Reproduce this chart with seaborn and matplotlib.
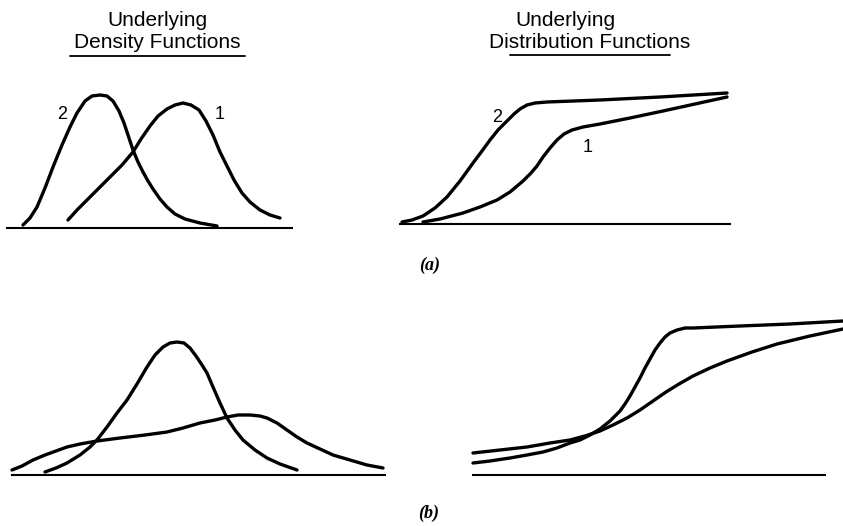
import matplotlib
matplotlib.use("Agg")
import matplotlib.pyplot as plt
from matplotlib.lines import Line2D
import seaborn as sns

sns.set_theme(style="white")
plt.rcParams["font.family"] = ["Liberation Sans", "DejaVu Sans"]
plt.rcParams["text.color"] = "black"

# ---------------- data (panel-local units: x along baseline, y height above it) ----
# (a) density functions
dens_a2_x = [16, 23, 30, 38, 46, 55, 63, 70, 78, 85, 93, 100, 106, 112, 117, 122, 126, 131, 136, 141, 146, 153, 160, 168, 178, 193, 210]
dens_a2_y = [3, 10, 21, 40, 61, 83, 101, 115, 127, 132, 133, 132, 127, 117, 105, 90, 78, 66, 56, 47, 39, 29, 21, 14, 9, 5, 2]
dens_a1_x = [61, 70, 80, 91, 103, 115, 126, 134, 143, 151, 160, 168, 176, 184, 192, 199, 206, 213, 220, 227, 235, 243, 253, 263, 273]
dens_a1_y = [8, 18, 28, 39, 51, 63, 76, 89, 102, 112, 119, 123, 125, 123, 118, 107, 93, 76, 62, 48, 35, 26, 18, 13, 10]

# (a) distribution functions
cdf_a2_x = [2, 12, 23, 35, 47, 60, 73, 82, 90, 98, 107, 114, 120, 127, 135, 147, 200, 260, 327]
cdf_a2_y = [2, 4, 8, 16, 27, 43, 61, 73, 84, 94, 103, 110, 115, 119, 121, 122, 124, 127, 131]
cdf_a1_x = [23, 40, 63, 80, 97, 110, 123, 131, 137, 143, 150, 157, 164, 172, 183, 200, 230, 263, 295, 327]
cdf_a1_y = [2, 5, 11, 17, 24, 32, 43, 51, 58, 67, 76, 84, 90, 94, 97, 100, 106, 113, 120, 127]

# (b) density functions
dens_b_tall_x = [33, 44, 55, 68, 78, 85, 95, 105, 115, 125, 135, 143, 151, 158, 165, 172, 178, 184, 190, 195, 201, 208, 215, 223, 231, 243, 255, 268, 285]
dens_b_tall_y = [3, 7, 12, 20, 28, 35, 48, 62, 75, 91, 108, 120, 128, 132, 133, 132, 127, 119, 110, 102, 88, 72, 57, 45, 35, 25, 17, 11, 5]
dens_b_wide_x = [0, 10, 21, 33, 44, 55, 68, 85, 108, 133, 155, 171, 188, 203, 215, 226, 238, 248, 255, 265, 275, 285, 295, 308, 321, 338, 355, 371]
dens_b_wide_y = [5, 9, 15, 20, 24, 28, 31, 34, 37, 40, 43, 47, 52, 55, 58, 60, 60, 59, 57, 52, 45, 38, 32, 26, 20, 15, 10, 7]

# (b) distribution functions
cdf_b_steep_x = [0, 17, 37, 54, 70, 84, 97, 107, 117, 122, 127, 132, 137, 142, 147, 152, 157, 162, 167, 172, 177, 182, 187, 192, 197, 204, 212, 220, 267, 317, 370]
cdf_b_steep_y = [12, 14, 17, 20, 23, 27, 32, 35, 40, 43, 46, 50, 54, 59, 64, 71, 79, 88, 97, 107, 116, 125, 132, 138, 142, 145, 147, 147, 149, 151, 154]
cdf_b_shallow_x = [0, 27, 54, 77, 97, 112, 127, 140, 154, 167, 180, 193, 206, 220, 237, 254, 279, 304, 337, 370]
cdf_b_shallow_y = [22, 25, 28, 32, 35, 39, 44, 50, 57, 65, 74, 83, 91, 99, 107, 114, 123, 131, 139, 146]

col_titles = [("Underlying", "Density Functions"), ("Underlying", "Distribution Functions")]
curve_labels_a_left = [("2", 55, 113), ("1", 213, 113)]
curve_labels_a_right = [("2", 97, 106), ("1", 188, 77)]
row_labels = ["(a)", "(b)"]

# ---------------- layout ---------------------------------------------------------
W, H = 843, 526
fig = plt.figure(figsize=(W / 100, H / 100), dpi=100)
fig.patch.set_facecolor("white")

LW = 2.4


def panel(left, base, width, height=150):
    ax = fig.add_axes([left / W, 1 - base / H, width / W, height / H])
    ax.set_xlim(0, width)
    ax.set_ylim(0, height)
    ax.set_facecolor("none")
    for s in ["top", "right", "left"]:
        ax.spines[s].set_visible(False)
    ax.spines["bottom"].set_color("black")
    ax.spines["bottom"].set_linewidth(1.5)
    ax.set_xticks([])
    ax.set_yticks([])
    ax.set_xlabel("")
    ax.set_ylabel("")
    return ax


def draw(ax, xs, ys):
    sns.lineplot(x=xs, y=ys, ax=ax, color="black", linewidth=LW, sort=False,
                 estimator=None, clip_on=False, solid_capstyle="round",
                 solid_joinstyle="round")


ax1 = panel(7, 228, 285)
draw(ax1, dens_a2_x, dens_a2_y)
draw(ax1, dens_a1_x, dens_a1_y)
for t, x, y in curve_labels_a_left:
    ax1.text(x, y, t, fontsize=13, ha="center", va="center", color="black")

ax2 = panel(400, 224, 330)
draw(ax2, cdf_a2_x, cdf_a2_y)
draw(ax2, cdf_a1_x, cdf_a1_y)
for t, x, y in curve_labels_a_right:
    ax2.text(x, y, t, fontsize=13, ha="center", va="center", color="black")

ax3 = panel(12, 475, 373)
draw(ax3, dens_b_tall_x, dens_b_tall_y)
draw(ax3, dens_b_wide_x, dens_b_wide_y)

ax4 = panel(473, 475, 352)
draw(ax4, cdf_b_steep_x, cdf_b_steep_y)
draw(ax4, cdf_b_shallow_x, cdf_b_shallow_y)

# column titles
title_pos = [((157, 21), (157, 43), (70, 245, 56)),
             ((565, 20), (590, 42), (510, 670, 55))]
for (l1, l2), (p1, p2, ul) in zip(col_titles, title_pos):
    fig.text(p1[0] / W, 1 - p1[1] / H, l1, fontsize=15, ha="center", va="center", color="black")
    fig.text(p2[0] / W, 1 - p2[1] / H, l2, fontsize=15, ha="center", va="center", color="black")
    fig.add_artist(Line2D([ul[0] / W, ul[1] / W], [1 - ul[2] / H, 1 - ul[2] / H],
                          color="black", linewidth=1.3))

# row labels
for lab, (x, y) in zip(row_labels, [(430, 265), (429, 513)]):
    fig.text(x / W, 1 - y / H, lab, fontsize=13, ha="center", va="center", color="black",
             family=["Liberation Serif", "DejaVu Serif"], style="italic", weight="bold")

fig.savefig("out.png", dpi=100, facecolor="white")
